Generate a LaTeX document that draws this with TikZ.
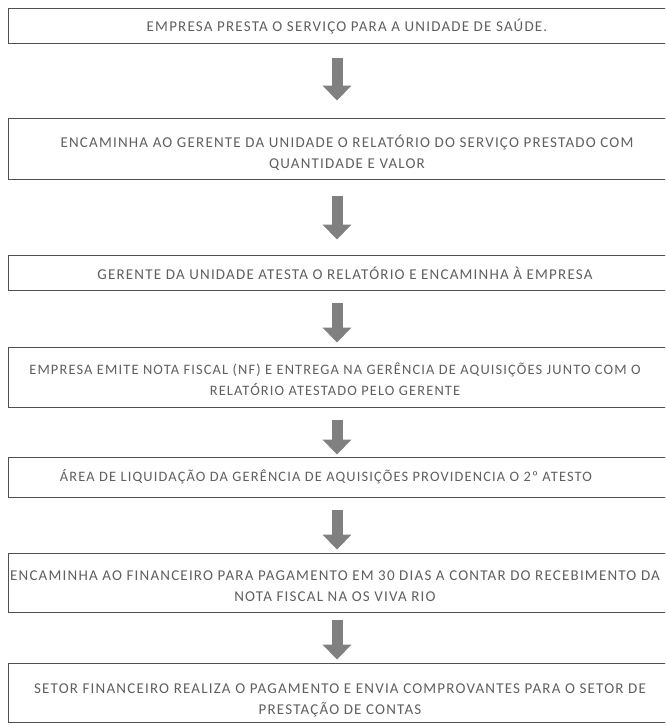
\documentclass[tikz,border=0pt]{standalone}
\usepackage{fontspec}
\setmainfont[LetterSpace=8]{Carlito}
\usetikzlibrary{arrows.meta}
\definecolor{txt}{HTML}{606060}
\definecolor{frm}{HTML}{505050}
\definecolor{arr}{HTML}{808080}
\tikzset{
  frame/.style={draw=frm, line width=0.9pt, inner sep=0pt, minimum width=678pt},
  label/.style={text=txt, font=\fontsize{15}{21}\selectfont, align=center, inner sep=0pt},
  labelsm/.style={label, font=\fontsize{14.4}{21.5}\selectfont},
  fat/.style={draw=arr, line width=11pt, -{Triangle[width=28pt,length=15pt]}},
}
\begin{document}
\begin{tikzpicture}[x=1pt,y=-1pt]
\clip (0,0) rectangle (665,726);
\fill[white] (0,0) rectangle (665,726);
\coordinate (ax) at (337,0);
% frames
\node[frame, minimum height=35pt] (b1) at (347,25.5) {};
\node[frame, minimum height=61pt] (b2) at (347,148.5) {};
\node[frame, minimum height=35pt] (b3) at (347,272.5) {};
\node[frame, minimum height=60pt] (b4) at (347,377) {};
\node[frame, minimum height=40pt] (b5) at (347,477) {};
\node[frame, minimum height=59pt] (b6) at (347,582.5) {};
\node[frame, minimum height=59pt] (b7) at (347,692.5) {};
% texts
\node[label] (t1) at (347,26) {EMPRESA PRESTA O SERVIÇO PARA A UNIDADE DE SAÚDE.};
\node[label] (t2) at (347,153) {ENCAMINHA AO GERENTE DA UNIDADE O RELATÓRIO DO SERVIÇO PRESTADO COM\\QUANTIDADE E VALOR};
\node[label] (t3) at (345,273) {GERENTE DA UNIDADE ATESTA O RELATÓRIO E ENCAMINHA À EMPRESA};
\node[labelsm] (t4) at (335,379) {EMPRESA EMITE NOTA FISCAL (NF) E ENTREGA NA GERÊNCIA DE AQUISIÇÕES JUNTO COM O\\RELATÓRIO ATESTADO PELO GERENTE};
\node[labelsm] (t5) at (326,477) {ÁREA DE LIQUIDAÇÃO DA GERÊNCIA DE AQUISIÇÕES PROVIDENCIA O 2º ATESTO};
\node[label] (t6) at (335,586) {ENCAMINHA AO FINANCEIRO PARA PAGAMENTO EM 30 DIAS A CONTAR DO RECEBIMENTO DA\\NOTA FISCAL NA OS VIVA RIO};
\node[label] (t7) at (340,700) {SETOR FINANCEIRO REALIZA O PAGAMENTO E ENVIA COMPROVANTES PARA O SETOR DE\\PRESTAÇÃO DE CONTAS};
% arrows
\draw[fat, shorten <=15pt, shorten >=17pt] (b1.south -| ax) -- (b2.north -| ax);
\draw[fat, shorten <=17pt, shorten >=15pt] (b2.south -| ax) -- (b3.north -| ax);
\draw[fat, shorten <=13pt, shorten >=4pt] (b3.south -| ax) -- (b4.north -| ax);
\draw[fat, shorten <=13pt, shorten >=2pt] (b4.south -| ax) -- (b5.north -| ax);
\draw[fat, shorten <=13pt, shorten >=3pt] (b5.south -| ax) -- (b6.north -| ax);
\draw[fat, shorten <=8pt, shorten >=3pt] (b6.south -| ax) -- (b7.north -| ax);
\end{tikzpicture}
\end{document}
